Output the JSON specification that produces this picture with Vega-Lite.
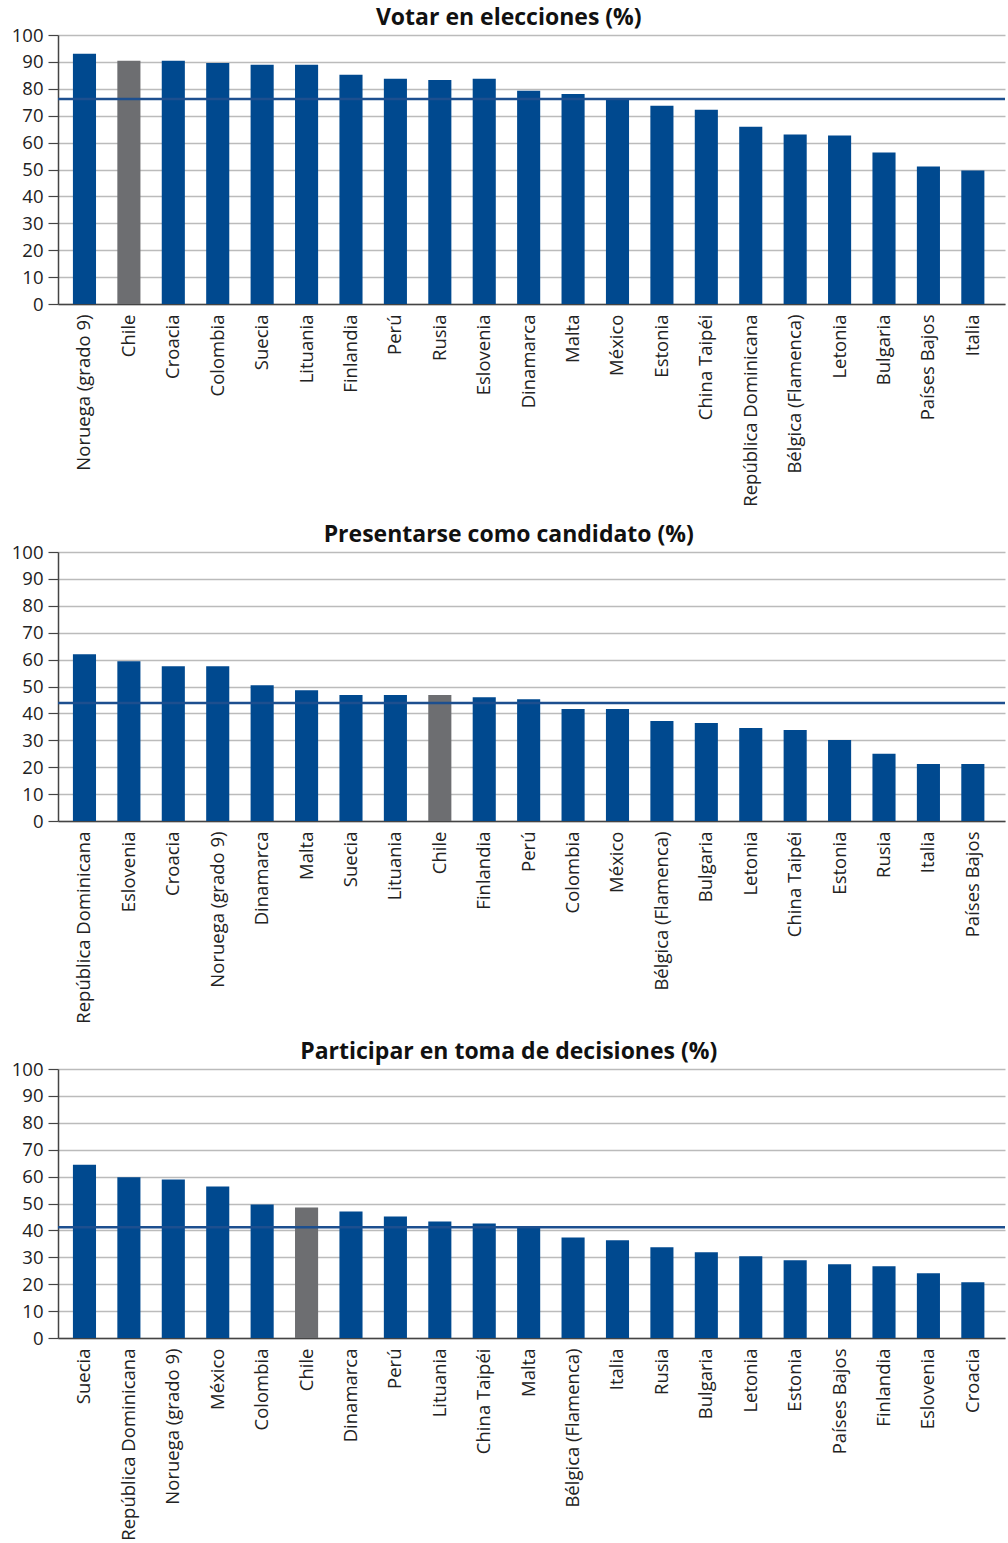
{
  "$schema": "https://vega.github.io/schema/vega-lite/v6.json",
  "padding": {"left": 11, "top": 7, "right": 0, "bottom": 0},
  "spacing": 17,
  "config": {
    "view": {"stroke": null},
    "font": "Open Sans",
    "title": {"fontSize": 23, "fontWeight": "bold", "color": "#111111", "anchor": "middle", "frame": "bounds", "offset": -4}
  },
  "datasets": {
    "votar": [
      {"country": "Noruega (grado 9)", "value": 93.0},
      {"country": "Chile", "value": 90.4},
      {"country": "Croacia", "value": 90.4},
      {"country": "Colombia", "value": 89.6},
      {"country": "Suecia", "value": 88.9},
      {"country": "Lituania", "value": 88.9},
      {"country": "Finlandia", "value": 85.2},
      {"country": "Perú", "value": 83.7},
      {"country": "Rusia", "value": 83.3},
      {"country": "Eslovenia", "value": 83.7},
      {"country": "Dinamarca", "value": 79.3},
      {"country": "Malta", "value": 78.1},
      {"country": "México", "value": 76.0},
      {"country": "Estonia", "value": 73.7},
      {"country": "China Taipéi", "value": 72.2},
      {"country": "República Dominicana", "value": 65.9},
      {"country": "Bélgica (Flamenca)", "value": 63.0},
      {"country": "Letonia", "value": 62.6},
      {"country": "Bulgaria", "value": 56.3},
      {"country": "Países Bajos", "value": 51.1},
      {"country": "Italia", "value": 49.6}
    ],
    "candidato": [
      {"country": "República Dominicana", "value": 62.0},
      {"country": "Eslovenia", "value": 59.4},
      {"country": "Croacia", "value": 57.5},
      {"country": "Noruega (grado 9)", "value": 57.5},
      {"country": "Dinamarca", "value": 50.5},
      {"country": "Malta", "value": 48.6},
      {"country": "Suecia", "value": 46.8},
      {"country": "Lituania", "value": 46.8},
      {"country": "Chile", "value": 46.8},
      {"country": "Finlandia", "value": 46.0},
      {"country": "Perú", "value": 45.3},
      {"country": "Colombia", "value": 41.6},
      {"country": "México", "value": 41.6},
      {"country": "Bélgica (Flamenca)", "value": 37.2},
      {"country": "Bulgaria", "value": 36.4},
      {"country": "Letonia", "value": 34.6},
      {"country": "China Taipéi", "value": 33.8},
      {"country": "Estonia", "value": 30.1},
      {"country": "Rusia", "value": 25.0},
      {"country": "Italia", "value": 21.2},
      {"country": "Países Bajos", "value": 21.2}
    ],
    "decisiones": [
      {"country": "Suecia", "value": 64.4},
      {"country": "República Dominicana", "value": 59.8},
      {"country": "Noruega (grado 9)", "value": 58.9},
      {"country": "México", "value": 56.3},
      {"country": "Colombia", "value": 49.6},
      {"country": "Chile", "value": 48.5},
      {"country": "Dinamarca", "value": 47.0},
      {"country": "Perú", "value": 45.2},
      {"country": "Lituania", "value": 43.3},
      {"country": "China Taipéi", "value": 42.6},
      {"country": "Malta", "value": 41.5},
      {"country": "Bélgica (Flamenca)", "value": 37.4},
      {"country": "Italia", "value": 36.3},
      {"country": "Rusia", "value": 33.7},
      {"country": "Bulgaria", "value": 31.9},
      {"country": "Letonia", "value": 30.4},
      {"country": "Estonia", "value": 28.9},
      {"country": "Países Bajos", "value": 27.4},
      {"country": "Finlandia", "value": 26.7},
      {"country": "Eslovenia", "value": 24.1},
      {"country": "Croacia", "value": 20.7}
    ],
    "refs": [
      {"panel": "votar", "value": 76.2},
      {"panel": "candidato", "value": 43.9},
      {"panel": "decisiones", "value": 41.2}
    ]
  },
  "vconcat": [
    {
      "title": "Votar en elecciones (%)",
      "width": 947, "height": 269,
      "encoding": {
        "y": {"field": "value", "type": "quantitative", "scale": {"domain": [0, 100]},
              "axis": {"title": null, "values": [0,10,20,30,40,50,60,70,80,90,100], "labelFontSize": 18.5, "labelColor": "#222222", "tickSize": 10, "tickColor": "#444444", "tickWidth": 1.2, "domainColor": "#444444", "domainWidth": 1.5, "gridColor": "#bbbbbb", "gridWidth": 1.5, "labelPadding": 5, "labelOverlap": false}}
      },
      "layer": [
        {
          "data": {"name": "votar"},
          "mark": {"type": "bar"},
          "encoding": {
            "x": {"field": "country", "type": "nominal", "sort": null, "scale": {"paddingInner": 0.48, "paddingOuter": 0.4, "align": 0.42},
                  "axis": {"title": null, "labelFontSize": 18.5, "labelColor": "#222222", "labelAngle": -90, "ticks": false, "labelPadding": 10, "domainColor": "#444444", "domainWidth": 1.5, "grid": false, "labelOverlap": false, "labelLimit": 400}},
            "color": {"condition": {"test": "datum.country === 'Chile'", "value": "#6d6e71"}, "value": "#00498f"}
          }
        },
        {
          "data": {"name": "refs"},
          "transform": [{"filter": "datum.panel === 'votar'"}],
          "mark": {"type": "rule", "color": "#1d4f8f", "strokeWidth": 2.5},
          "encoding": {}
        }
      ]
    },
    {
      "title": "Presentarse como candidato (%)",
      "width": 947, "height": 269,
      "encoding": {
        "y": {"field": "value", "type": "quantitative", "scale": {"domain": [0, 100]},
              "axis": {"title": null, "values": [0,10,20,30,40,50,60,70,80,90,100], "labelFontSize": 18.5, "labelColor": "#222222", "tickSize": 10, "tickColor": "#444444", "tickWidth": 1.2, "domainColor": "#444444", "domainWidth": 1.5, "gridColor": "#bbbbbb", "gridWidth": 1.5, "labelPadding": 5, "labelOverlap": false}}
      },
      "layer": [
        {
          "data": {"name": "candidato"},
          "mark": {"type": "bar"},
          "encoding": {
            "x": {"field": "country", "type": "nominal", "sort": null, "scale": {"paddingInner": 0.48, "paddingOuter": 0.4, "align": 0.42},
                  "axis": {"title": null, "labelFontSize": 18.5, "labelColor": "#222222", "labelAngle": -90, "ticks": false, "labelPadding": 10, "domainColor": "#444444", "domainWidth": 1.5, "grid": false, "labelOverlap": false, "labelLimit": 400}},
            "color": {"condition": {"test": "datum.country === 'Chile'", "value": "#6d6e71"}, "value": "#00498f"}
          }
        },
        {
          "data": {"name": "refs"},
          "transform": [{"filter": "datum.panel === 'candidato'"}],
          "mark": {"type": "rule", "color": "#1d4f8f", "strokeWidth": 2.5},
          "encoding": {}
        }
      ]
    },
    {
      "title": "Participar en toma de decisiones (%)",
      "width": 947, "height": 269,
      "encoding": {
        "y": {"field": "value", "type": "quantitative", "scale": {"domain": [0, 100]},
              "axis": {"title": null, "values": [0,10,20,30,40,50,60,70,80,90,100], "labelFontSize": 18.5, "labelColor": "#222222", "tickSize": 10, "tickColor": "#444444", "tickWidth": 1.2, "domainColor": "#444444", "domainWidth": 1.5, "gridColor": "#bbbbbb", "gridWidth": 1.5, "labelPadding": 5, "labelOverlap": false}}
      },
      "layer": [
        {
          "data": {"name": "decisiones"},
          "mark": {"type": "bar"},
          "encoding": {
            "x": {"field": "country", "type": "nominal", "sort": null, "scale": {"paddingInner": 0.48, "paddingOuter": 0.4, "align": 0.42},
                  "axis": {"title": null, "labelFontSize": 18.5, "labelColor": "#222222", "labelAngle": -90, "ticks": false, "labelPadding": 10, "domainColor": "#444444", "domainWidth": 1.5, "grid": false, "labelOverlap": false, "labelLimit": 400}},
            "color": {"condition": {"test": "datum.country === 'Chile'", "value": "#6d6e71"}, "value": "#00498f"}
          }
        },
        {
          "data": {"name": "refs"},
          "transform": [{"filter": "datum.panel === 'decisiones'"}],
          "mark": {"type": "rule", "color": "#1d4f8f", "strokeWidth": 2.5},
          "encoding": {}
        }
      ]
    }
  ]
}
